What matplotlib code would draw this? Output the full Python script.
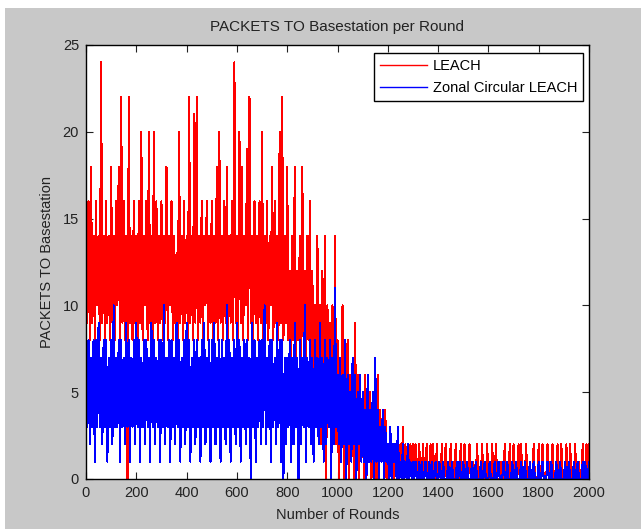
import numpy as np
import matplotlib
matplotlib.use("Agg")
import matplotlib.pyplot as plt
from matplotlib.patches import Rectangle

plt.rcParams['font.family'] = ['Liberation Sans', 'DejaVu Sans']

# packets per round, read every 5 rounds (0..2000)
rounds = np.arange(0, 2001, 5)

leach = [
    18, 9, 16, 8, 18, 9, 14, 8, 16, 10, 14, 8, 24, 9, 14, 8, 16, 9, 14, 8,
    18, 9, 14, 8, 16, 10, 18, 8, 22, 9, 16, 8, 14, 0, 22, 9, 14, 8, 16, 9,
    14, 8, 16, 9, 20, 8, 14, 10, 16, 8, 20, 9, 14, 8, 20, 9, 16, 8, 14, 9,
    16, 8, 14, 9, 18, 8, 14, 10, 16, 8, 14, 9, 13, 8, 20, 9, 14, 8, 16, 9,
    14, 8, 22, 9, 14, 8, 21, 9, 22, 8, 14, 9, 16, 8, 14, 10, 16, 8, 14, 9,
    16, 8, 14, 9, 18, 8, 20, 9, 14, 8, 16, 9, 18, 8, 14, 9, 16, 8, 24, 9,
    14, 8, 20, 9, 18, 8, 14, 10, 19, 8, 22, 9, 14, 8, 16, 9, 14, 8, 16, 9,
    20, 8, 14, 9, 16, 8, 14, 10, 18, 8, 16, 9, 14, 8, 20, 9, 22, 8, 14, 9,
    18, 8, 12, 6, 14, 8, 18, 7, 12, 8, 14, 6, 18, 8, 12, 5, 14, 8, 16, 6,
    12, 4, 10, 3, 14, 5, 10, 2, 12, 4, 14, 0, 10, 3, 9, 1, 10, 3, 14, 2,
    8, 0, 6, 1, 10, 0, 6, 2, 8, 0, 6, 1, 5, 0, 9, 1, 6, 0, 5, 1,
    4, 0, 6, 0, 4, 1, 5, 0, 4, 0, 3, 0, 6, 0, 4, 1, 3, 0, 4, 0,
    2, 0, 3, 0, 2, 0, 2, 1, 2, 0, 2, 0, 3, 0, 2, 0, 2, 1, 2, 0,
    2, 0, 2, 1, 0, 2, 0, 0, 2, 0, 1, 2, 0, 0, 2, 0, 2, 0, 0, 2,
    0, 1, 0, 2, 0, 0, 2, 0, 0, 0, 2, 0, 1, 0, 2, 0, 0, 0, 2, 0,
    0, 2, 0, 0, 0, 2, 0, 0, 1, 0, 0, 2, 0, 0, 0, 2, 0, 0, 0, 2,
    0, 0, 0, 2, 0, 0, 2, 0, 0, 0, 1, 0, 0, 2, 0, 0, 0, 2, 0, 0,
    2, 0, 0, 0, 2, 0, 2, 0, 0, 0, 2, 0, 0, 1, 0, 0, 2, 0, 0, 0,
    2, 0, 0, 2, 0, 0, 0, 2, 0, 1, 0, 2, 0, 0, 0, 2, 0, 0, 2, 0,
    0, 0, 2, 0, 0, 2, 0, 0, 0, 2, 0, 0, 1, 0, 0, 2, 0, 0, 2, 0,
    2,
]

zonal = [
    10, 3, 8, 2, 7, 3, 8, 1, 8, 3, 9, 3, 7, 2, 8, 3, 8, 1, 7, 3,
    8, 2, 10, 3, 7, 3, 8, 1, 8, 3, 7, 2, 9, 3, 8, 1, 7, 3, 8, 2,
    9, 3, 8, 1, 7, 3, 8, 2, 8, 3, 7, 1, 9, 3, 8, 2, 7, 3, 8, 1,
    8, 3, 10, 2, 7, 3, 8, 1, 8, 3, 7, 2, 9, 3, 8, 1, 7, 3, 8, 2,
    9, 3, 8, 1, 7, 3, 8, 2, 8, 3, 7, 1, 8, 3, 9, 2, 7, 3, 8, 1,
    8, 3, 9, 2, 7, 3, 8, 1, 8, 3, 7, 2, 10, 3, 8, 1, 7, 3, 8, 2,
    9, 3, 8, 1, 7, 3, 8, 2, 8, 3, 7, 0, 9, 3, 8, 1, 7, 3, 8, 2,
    8, 3, 10, 2, 7, 3, 8, 1, 8, 3, 7, 2, 9, 3, 8, 1, 8, 0, 7, 2,
    7, 3, 8, 1, 7, 2, 9, 3, 7, 0, 8, 2, 7, 3, 10, 1, 7, 3, 8, 2,
    7, 1, 8, 3, 7, 2, 9, 3, 7, 1, 8, 2, 7, 3, 8, 0, 7, 2, 11, 3,
    6, 2, 7, 1, 6, 2, 8, 0, 6, 2, 5, 1, 7, 2, 6, 0, 5, 2, 6, 1,
    5, 1, 4, 0, 6, 1, 4, 1, 5, 0, 7, 1, 4, 0, 3, 1, 4, 0, 3, 1,
    2, 0, 3, 0, 2, 1, 2, 0, 3, 0, 1, 0, 2, 0, 1, 0, 2, 0, 1, 0,
    1, 0, 1, 0, 0, 1, 0, 1, 0, 0, 1, 0, 0, 1, 0, 1, 0, 0, 1, 0,
    0, 1, 0, 0, 1, 0, 0, 0, 1, 0, 0, 1, 0, 0, 0, 1, 0, 1, 0, 0,
    1, 0, 0, 1, 0, 0, 0, 1, 0, 0, 1, 0, 0, 0, 1, 0, 0, 1, 0, 0,
    0, 1, 0, 0, 0, 1, 0, 0, 1, 0, 0, 0, 1, 0, 0, 1, 0, 0, 0, 1,
    0, 0, 1, 0, 0, 0, 1, 0, 0, 1, 0, 0, 0, 1, 0, 0, 1, 0, 0, 0,
    1, 0, 0, 1, 0, 0, 0, 1, 0, 0, 1, 0, 0, 0, 1, 0, 0, 1, 0, 0,
    0, 1, 0, 0, 1, 0, 0, 0, 1, 0, 0, 1, 0, 0, 0, 1, 0, 1, 0, 0,
    1,
]

fig = plt.figure(figsize=(6.41, 5.29), dpi=100)
fig.patch.set_facecolor("white")
# matlab grey window
bg = Rectangle((5/641, 0), 1, 1 - 8/529, transform=fig.transFigure,
               facecolor="#c8c8c8", edgecolor="none", zorder=-10)
fig.patches.append(bg)

ax = fig.add_axes([86/641, 50/529, 503/641, 434/529])
ax.set_zorder(1)
ax.plot(rounds, leach, color="#ff0000", lw=0.75, label="LEACH",
        antialiased=False)
ax.plot(rounds, zonal, color="#0000ff", lw=0.75, label="Zonal Circular LEACH",
        antialiased=False)

ax.set_xlim(0, 2000)
ax.set_ylim(0, 25)
ax.set_xticks(np.arange(0, 2001, 200))
ax.set_yticks(np.arange(0, 26, 5))
ax.tick_params(direction="in", top=True, right=True, length=5, width=0.8,
               labelsize=10.5, pad=5, colors="#222222")
for s in ax.spines.values():
    s.set_linewidth(1.0)

ax.set_xlabel("Number of Rounds", fontsize=10.5, color="#222222")
ax.xaxis.set_label_coords(0.5, -0.083)
ax.xaxis.label.set_va("center")
ax.set_ylabel("PACKETS TO Basestation", fontsize=10.5, color="#222222")
ax.yaxis.set_label_coords(-0.078, 0.5)
ax.yaxis.label.set_va("center")
fig.text(337.5/641, 1 - 27/529, "PACKETS TO Basestation per Round",
         ha="center", va="center", fontsize=11, color="#222222")

leg = ax.legend(loc="upper right", bbox_to_anchor=(1 - 6/503, 1 - 8/434),
                borderaxespad=0, fancybox=False, framealpha=1,
                edgecolor="black", fontsize=10.5, handlelength=3.2,
                handletextpad=0.4, labelspacing=0.55)
leg.get_frame().set_linewidth(1.0)
for l in leg.get_lines():
    l.set_linewidth(1.0)
    l.set_antialiased(True)

fig.savefig("out.png", dpi=100, facecolor=fig.get_facecolor())
